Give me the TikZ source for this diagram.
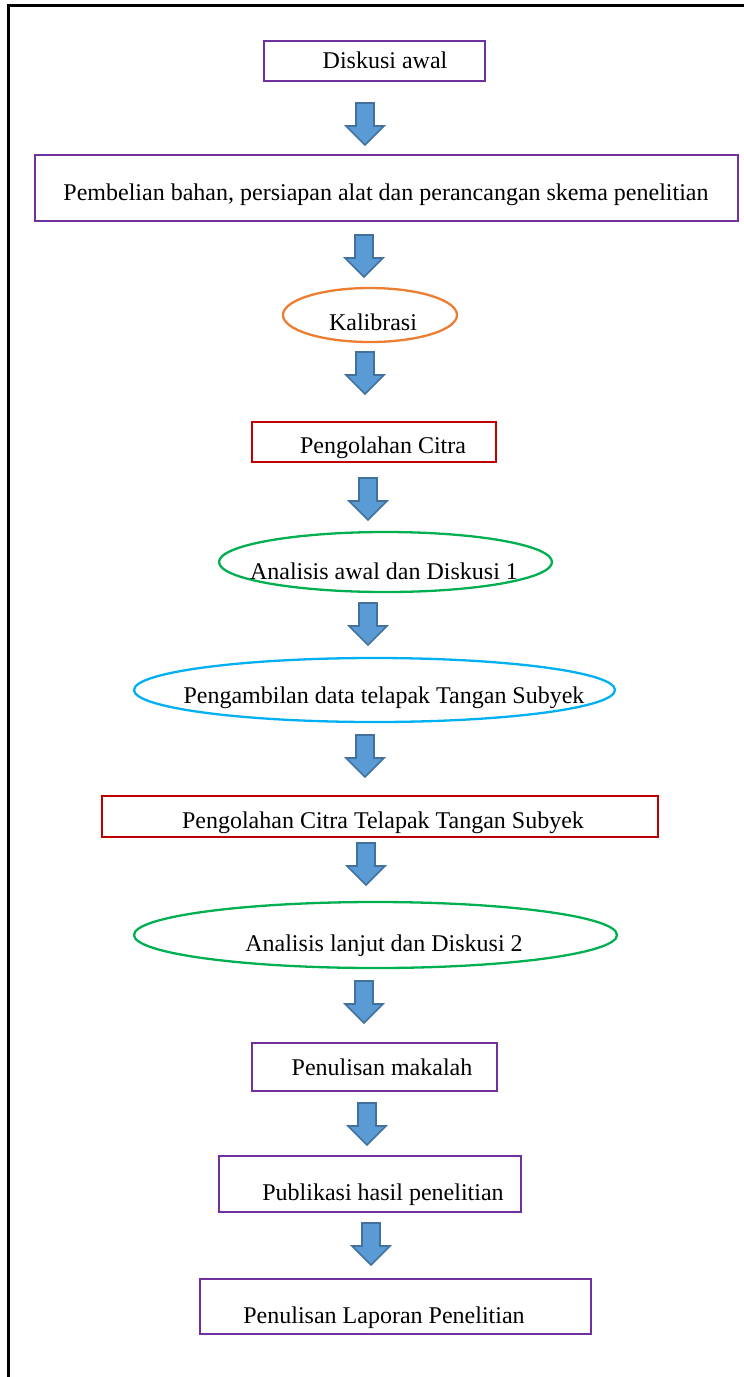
\documentclass[tikz,border=0pt]{standalone}
\usepackage{fontspec}
\setmainfont{Liberation Serif}
\usetikzlibrary{shapes.geometric}
\definecolor{purp}{HTML}{7030A0}
\definecolor{redb}{HTML}{C00000}
\definecolor{oran}{HTML}{ED7D31}
\definecolor{gree}{HTML}{00B050}
\definecolor{cyan2}{HTML}{00B0F0}
\definecolor{arrfill}{HTML}{5B9BD5}
\definecolor{arrline}{HTML}{41719C}
\tikzset{
  shp/.style={inner sep=0pt, outer sep=0pt, line width=2.6pt},
  purplebox/.style={shp, rectangle, draw=purp},
  redbox/.style={shp, rectangle, draw=redb},
  ell/.style={shp, ellipse, line width=2.3pt},
  txt/.style={anchor=base, inner sep=0pt, font=\fontsize{24}{28}\selectfont},
  blockarrow/.pic={\draw[fill=arrfill, draw=arrline, line width=1.6pt, line join=miter]
     (-9,0) -- (9,0) -- (9,23) -- (19,23) -- (0,42) -- (-19,23) -- (-9,23) -- cycle;}
}
\begin{document}
\begin{tikzpicture}[x=1pt,y=-1pt]
\useasboundingbox (0,0) rectangle (744,1377);
\draw[line width=2.6pt] (8.5,1377) -- (8.5,5.5) -- (744,5.5);

% shapes
\node[purplebox, minimum width=221pt, minimum height=40pt] (n1) at (374.5,61) {};
\node[purplebox, minimum width=703pt, minimum height=66pt] (n2) at (386.5,188) {};
\node[ell, draw=oran, minimum width=174pt, minimum height=54pt] (n3) at (370,315) {};
\node[redbox, minimum width=244pt, minimum height=40pt] (n4) at (374,442) {};
\node[ell, draw=gree, minimum width=333pt, minimum height=60pt] (n5) at (385.5,562) {};
\node[ell, draw=cyan2, minimum width=481pt, minimum height=64pt] (n6) at (374.5,690) {};
\node[redbox, minimum width=556pt, minimum height=41pt] (n7) at (380,816.5) {};
\node[ell, draw=gree, minimum width=483pt, minimum height=66pt] (n8) at (375.5,935) {};
\node[purplebox, minimum width=245pt, minimum height=48pt] (n9) at (374.5,1067) {};
\node[purplebox, minimum width=302pt, minimum height=56pt] (n10) at (370,1184) {};
\node[purplebox, minimum width=391pt, minimum height=55pt] (n11) at (395.5,1306.5) {};

% texts
\node[txt] (t1) at (385,68) {Diskusi awal};
\node[txt] (t2) at (386,200) {Pembelian bahan, persiapan alat dan perancangan skema penelitian};
\node[txt] (t3) at (373,330) {Kalibrasi};
\node[txt] (t4) at (383,453) {Pengolahan Citra};
\node[txt] (t5) at (384,579) {Analisis awal dan Diskusi 1};
\node[txt] (t6) at (384,703) {Pengambilan data telapak Tangan Subyek};
\node[txt] (t7) at (383,828) {Pengolahan Citra Telapak Tangan Subyek};
\node[txt] (t8) at (384,951) {Analisis lanjut dan Diskusi 2};
\node[txt] (t9) at (382,1075) {Penulisan makalah};
\node[txt] (t10) at (383,1200) {Publikasi hasil penelitian};
\node[txt] (t11) at (384,1323) {Penulisan Laporan Penelitian};

% block arrows
\coordinate (a1) at (365,103);
\coordinate (a2) at (364,235);
\coordinate (a3) at (365,352);
\coordinate (a4) at (368,478);
\coordinate (a5) at (368,603);
\coordinate (a6) at (365,735);
\coordinate (a7) at (366,843);
\coordinate (a8) at (364,981);
\coordinate (a9) at (367,1103);
\coordinate (a10) at (371,1223);
\foreach \a in {a1,a2,a3,a4,a5,a6,a7,a8,a9,a10} {\pic at (\a) {blockarrow};}
\end{tikzpicture}
\end{document}
